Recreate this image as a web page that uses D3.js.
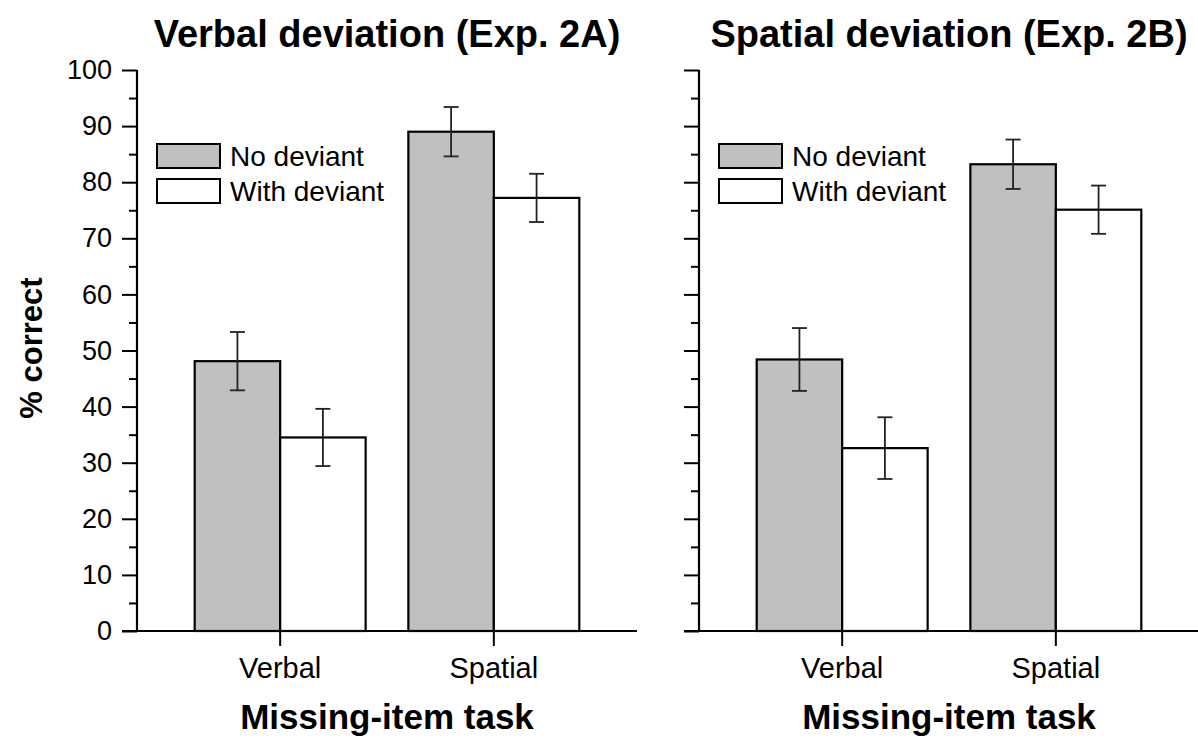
<!DOCTYPE html>
<html>
<head>
<meta charset="utf-8">
<script src="https://d3js.org/d3.v7.min.js"></script>
<style>
  body { margin: 0; background: #fff; }
  svg { display: block; font-family: "Liberation Sans", Arial, sans-serif; }
</style>
</head>
<body>
<svg width="1198" height="744"></svg>
<script>
// DATA ========================================================
const categories = ["Verbal", "Spatial"];
const seriesNames = ["No deviant", "With deviant"];
const seriesFills = ["#c0c0c0", "#ffffff"];

// Exp. 2A (verbal deviation)
const expA_noDeviant = [48.1, 89.0];
const expA_noDeviantErr = [5.2, 4.4];
const expA_withDeviant = [34.5, 77.2];
const expA_withDeviantErr = [5.1, 4.3];

// Exp. 2B (spatial deviation)
const expB_noDeviant = [48.4, 83.2];
const expB_noDeviantErr = [5.6, 4.4];
const expB_withDeviant = [32.6, 75.1];
const expB_withDeviantErr = [5.5, 4.3];

const yMajorTicks = [0, 10, 20, 30, 40, 50, 60, 70, 80, 90, 100];
const yMinorTicks = [5, 15, 25, 35, 45, 55, 65, 75, 85, 95];

const panels = [
  { title: "Verbal deviation (Exp. 2A)", left: 137, labels: true,
    means: [expA_noDeviant, expA_withDeviant], errs: [expA_noDeviantErr, expA_withDeviantErr] },
  { title: "Spatial deviation (Exp. 2B)", left: 699, labels: false,
    means: [expB_noDeviant, expB_withDeviant], errs: [expB_noDeviantErr, expB_withDeviantErr] }
];

// LAYOUT ======================================================
const svg = d3.select("svg");
const plotW = 500, plotTop = 70, plotBottom = 631;

const y = d3.scaleLinear().domain([0, 100]).range([plotBottom, plotTop]);

panels.forEach(p => {
  const g = svg.append("g").attr("transform", `translate(${p.left},0)`);

  const x0 = d3.scaleBand().domain(categories).range([0, plotW])
    .paddingInner(0.2).paddingOuter(0.27);
  const x1 = d3.scaleBand().domain(seriesNames).range([0, x0.bandwidth()]);

  // bars
  seriesNames.forEach((s, si) => {
    const rows = categories.map((c, ci) => ({ c, v: p.means[si][ci], e: p.errs[si][ci] }));
    g.append("g").selectAll("rect")
      .data(rows)
      .join("rect")
      .attr("x", d => x0(d.c) + x1(s))
      .attr("y", d => y(d.v))
      .attr("width", x1.bandwidth())
      .attr("height", d => y(0) - y(d.v))
      .attr("fill", seriesFills[si])
      .attr("stroke", "#000")
      .attr("stroke-width", 2.2);

    // error bars
    const eb = g.append("g").attr("stroke", "#222").attr("stroke-width", 1.8);
    rows.forEach(d => {
      const cx = x0(d.c) + x1(s) + x1.bandwidth() / 2;
      eb.append("line").attr("x1", cx).attr("x2", cx)
        .attr("y1", y(d.v + d.e)).attr("y2", y(d.v - d.e));
      [d.v + d.e, d.v - d.e].forEach(v => {
        eb.append("line").attr("x1", cx - 7.5).attr("x2", cx + 7.5)
          .attr("y1", y(v)).attr("y2", y(v));
      });
    });
  });

  // y axis: major + minor ticks
  const yAxis = d3.axisLeft(y).tickValues(yMajorTicks).tickSize(15).tickPadding(10)
    .tickFormat(p.labels ? d3.format("d") : () => "");
  const ya = g.append("g").call(yAxis);
  ya.select(".domain").remove();
  ya.selectAll("line").attr("stroke", "#000").attr("stroke-width", 2);
  ya.selectAll("text").attr("font-size", 27).attr("fill", "#000")
    .attr("font-family", "Liberation Sans, Arial, sans-serif");

  const ym = g.append("g").call(d3.axisLeft(y).tickValues(yMinorTicks).tickSize(8).tickFormat(""));
  ym.select(".domain").remove();
  ym.selectAll("line").attr("stroke", "#000").attr("stroke-width", 2);

  g.append("line").attr("x1", 0).attr("x2", 0).attr("y1", plotTop).attr("y2", plotBottom)
    .attr("stroke", "#000").attr("stroke-width", 2.2);
  g.append("line").attr("x1", -15).attr("x2", plotW).attr("y1", plotBottom).attr("y2", plotBottom)
    .attr("stroke", "#000").attr("stroke-width", 2.2);

  // x axis
  const xAxis = d3.axisBottom(x0).tickSize(15).tickPadding(11);
  const xa = g.append("g").attr("transform", `translate(0,${plotBottom})`).call(xAxis);
  xa.select(".domain").remove();
  xa.selectAll("line").attr("stroke", "#000").attr("stroke-width", 2);
  xa.selectAll("text").attr("font-size", 29).attr("fill", "#000")
    .attr("font-family", "Liberation Sans, Arial, sans-serif");

  // titles
  g.append("text").attr("x", plotW / 2).attr("y", 47).attr("text-anchor", "middle")
    .attr("font-size", 38).attr("font-weight", "bold").text(p.title);
  g.append("text").attr("x", plotW / 2).attr("y", 729).attr("text-anchor", "middle")
    .attr("font-size", 35).attr("font-weight", "bold").text("Missing-item task");

  // legend
  const lg = g.append("g").attr("transform", "translate(20,144)");
  seriesNames.forEach((s, i) => {
    lg.append("rect").attr("x", 0).attr("y", i * 35).attr("width", 63).attr("height", 24)
      .attr("fill", seriesFills[i]).attr("stroke", "#000").attr("stroke-width", 2);
    lg.append("text").attr("x", 73).attr("y", i * 35 + 22).attr("font-size", 28).text(s);
  });
});

// y-axis title
svg.append("text")
  .attr("transform", "translate(42,348) rotate(-90)")
  .attr("text-anchor", "middle")
  .attr("font-size", 31).attr("font-weight", "bold")
  .text("% correct");
</script>
</body>
</html>
